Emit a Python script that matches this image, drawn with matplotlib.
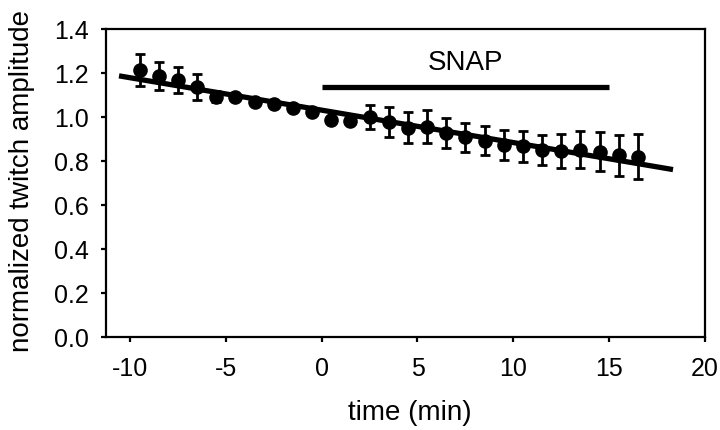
import numpy as np
import matplotlib.pyplot as plt

plt.rcParams['font.family'] = ['Liberation Sans', 'DejaVu Sans']
plt.rcParams['axes.unicode_minus'] = False

# data
time_min = [-9.5, -8.5, -7.5, -6.5, -5.5, -4.5, -3.5, -2.5, -1.5, -0.5,
            0.5, 1.5, 2.5, 3.5, 4.5, 5.5, 6.5, 7.5, 8.5, 9.5,
            10.5, 11.5, 12.5, 13.5, 14.5, 15.5, 16.5]
amplitude = [1.214, 1.187, 1.169, 1.137, 1.092, 1.092, 1.069, 1.060, 1.042, 1.024,
             0.988, 0.983, 1.001, 0.979, 0.952, 0.956, 0.929, 0.908, 0.893, 0.874,
             0.866, 0.852, 0.847, 0.852, 0.843, 0.825, 0.820]
sem = [0.073, 0.065, 0.060, 0.060, 0.025, 0.012, 0.010, 0.010, 0.010, 0.010,
       0.010, 0.010, 0.055, 0.068, 0.070, 0.075, 0.068, 0.066, 0.066, 0.068,
       0.070, 0.068, 0.077, 0.086, 0.088, 0.093, 0.102]

# regression line endpoints
fit_x = [-10.57, 18.33]
fit_y = [1.187, 0.761]

# SNAP application period
snap_start, snap_end, snap_level = 0, 15, 1.137

fig = plt.figure(figsize=(7.2, 4.31), dpi=100)
ax = fig.add_axes([0.1472, 0.2158, 0.8320, 0.7146])

ax.plot(fit_x, fit_y, color='black', lw=3.8, solid_capstyle='butt', zorder=2)
ax.errorbar(time_min, amplitude, yerr=sem, fmt='o', color='black', ms=9.5,
            elinewidth=2, capsize=3.5, capthick=2, zorder=3)

ax.plot([snap_start, snap_end], [snap_level, snap_level], color='black', lw=3.8,
        solid_capstyle='butt')
ax.text((snap_start + snap_end) / 2, 1.19, 'SNAP', ha='center', va='bottom', fontsize=20)

ax.set_xlim(-11.25, 20)
ax.set_ylim(0, 1.4)
ax.set_xticks([-10, -5, 0, 5, 10, 15, 20])
ax.set_yticks(np.arange(0, 1.41, 0.2))
ax.set_yticklabels(['%.1f' % v for v in np.arange(0, 1.41, 0.2)])

for s in ax.spines.values():
    s.set_linewidth(1.6)
ax.tick_params(direction='out', length=3.5, width=1.6, labelsize=18)
ax.tick_params(axis='x', pad=10)
ax.tick_params(axis='y', pad=9)

fig.text(410 / 720, 1 - 413 / 431, 'time (min)', fontsize=20, ha='center', va='center')
fig.text(22 / 720, 1 - 181 / 431, 'normalized twitch amplitude', fontsize=20,
         rotation=90, ha='center', va='center')

fig.savefig('out.png', dpi=100)
